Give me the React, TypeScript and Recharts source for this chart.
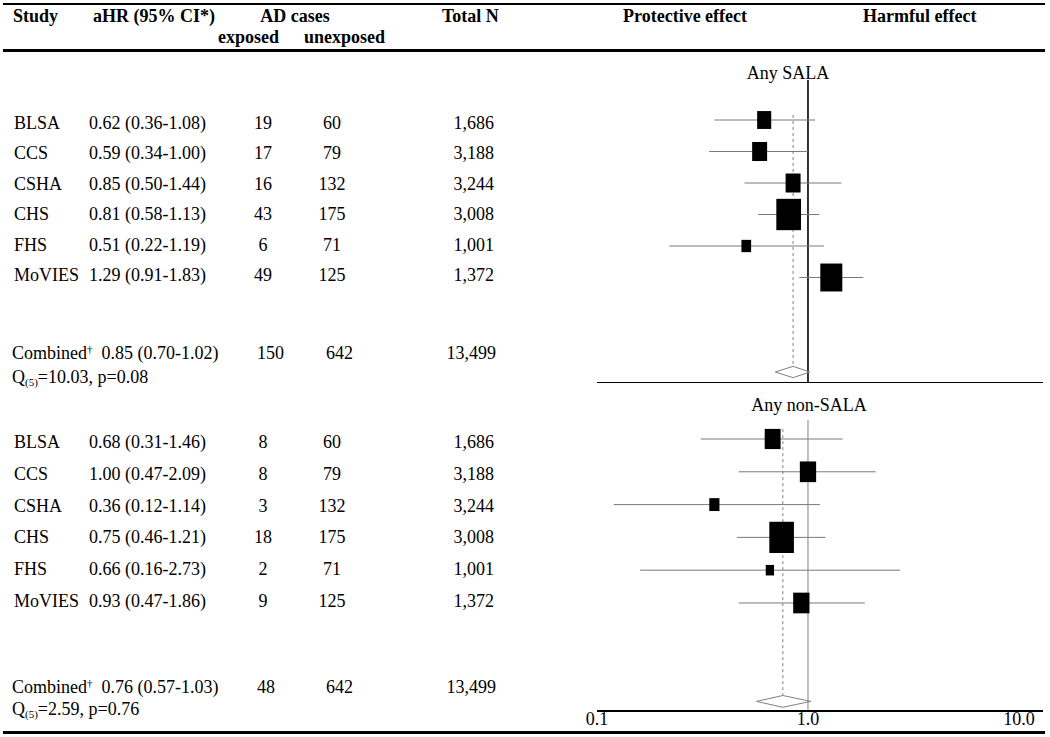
import React from 'react';
import { ComposedChart, XAxis, YAxis, Scatter, ErrorBar, Line, ReferenceLine } from 'recharts';

// ---------- data ----------
const studies = ['BLSA', 'CCS', 'CSHA', 'CHS', 'FHS', 'MoVIES'];
const unexposedCases = [60, 79, 132, 175, 71, 125];
const totalN = ['1,686', '3,188', '3,244', '3,008', '1,001', '1,372'];

const salaHR = [0.62, 0.59, 0.85, 0.81, 0.51, 1.29];
const salaLo = [0.36, 0.34, 0.5, 0.58, 0.22, 0.91];
const salaHi = [1.08, 1.0, 1.44, 1.13, 1.19, 1.83];
const salaExposed = [19, 17, 16, 43, 6, 49];
const salaWeight = [10.8, 12.2, 12.2, 33.2, 5.1, 26.4];
const salaCombined = [0.85, 0.7, 1.02]; // estimate, lower, upper
const salaCombinedCases = [150, 642];
const salaCombinedN = '13,499';
const salaQ = ['10.03', '0.08'];

const nonHR = [0.68, 1.0, 0.36, 0.75, 0.66, 0.93];
const nonLo = [0.31, 0.47, 0.12, 0.46, 0.16, 0.47];
const nonHi = [1.46, 2.09, 1.14, 1.21, 2.73, 1.86];
const nonExposed = [8, 8, 3, 18, 2, 9];
const nonWeight = [16.2, 17.0, 6.6, 38.8, 4.4, 17.0];
const nonCombined = [0.76, 0.57, 1.03];
const nonCombinedCases = [48, 642];
const nonCombinedN = '13,499';
const nonQ = ['2.59', '0.76'];

const xTicks = [0.1, 1, 10];

// ---------- layout constants ----------
const SERIF = "'Liberation Serif', 'Times New Roman', Times, serif";
const COMBINED_ROW = 8;
const DIAMOND_HALF = 0.18;
const BOX_RATIO = 1.27;

type TProps = { x: number; y: number; children: React.ReactNode; bold?: boolean; anchor?: 'left' | 'center' | 'right'; size?: number };
const T = ({ x, y, children, bold, anchor = 'left', size = 18 }: TProps) => (
  <div
    style={{
      position: 'absolute',
      left: x,
      top: y - 10,
      fontFamily: SERIF,
      fontSize: size,
      lineHeight: '20px',
      fontWeight: bold ? 'bold' : 'normal',
      whiteSpace: 'nowrap',
      color: '#000',
      transform: anchor === 'center' ? 'translateX(-50%)' : anchor === 'right' ? 'translateX(-100%)' : undefined,
    }}
  >
    {children}
  </div>
);

const Rule = ({ y, h }: { y: number; h: number }) => (
  <div style={{ position: 'absolute', left: 3, top: y, width: 1042, height: h, background: '#000' }} />
);

const fmtHR = (h: number, l: number, u: number) => `${h.toFixed(2)} (${l.toFixed(2)}-${u.toFixed(2)})`;

type PanelProps = {
  hr: number[]; lo: number[]; hi: number[]; weight: number[]; comb: number[];
  top: number; height: number; domain: [number, number]; areaK: number;
  refStroke: string; refWidth: number; refTop: number; dashTop: number; showAxis: boolean;
};

function Panel(p: PanelProps) {
  const pts = p.hr.map((h, i) => ({ x: h, y: i, err: [h - p.lo[i], p.hi[i] - h], w: p.weight[i] }));
  const [est, cl, cu] = p.comb;
  const diamond = [
    { x: cl, y: COMBINED_ROW },
    { x: est, y: COMBINED_ROW - DIAMOND_HALF },
    { x: cu, y: COMBINED_ROW },
    { x: est, y: COMBINED_ROW + DIAMOND_HALF },
    { x: cl, y: COMBINED_ROW },
  ];
  const box = (props: any) => {
    const { cx, cy, payload } = props;
    const area = payload.w * p.areaK;
    const bw = Math.sqrt(area / BOX_RATIO);
    const bh = bw * BOX_RATIO;
    return <rect x={cx - bw / 2} y={cy - bh / 2} width={bw} height={bh} fill="#000" />;
  };
  return (
    <div style={{ position: 'absolute', left: 560, top: p.top }}>
      <ComposedChart width={490} height={p.height} margin={{ top: 0, right: 7, bottom: 0, left: 37 }}>
        <XAxis
          type="number"
          dataKey="x"
          scale="log"
          domain={[0.1, 13]}
          allowDataOverflow
          ticks={xTicks}
          tick={p.showAxis ? { fill: '#000', fontSize: 18, fontFamily: SERIF } : false}
          tickFormatter={(v: number) => v.toFixed(1)}
          tickLine={false}
          tickSize={0}
          tickMargin={1}
          height={p.showAxis ? 26 : 0}
          hide={!p.showAxis}
          axisLine={{ stroke: '#000', strokeWidth: 2 }}
        />
        <YAxis type="number" dataKey="y" domain={p.domain} reversed hide allowDataOverflow />
        {!p.showAxis && (
          <ReferenceLine y={p.domain[1]} stroke="#000" strokeWidth={2} ifOverflow="visible" />
        )}
        <ReferenceLine
          segment={[{ x: 1, y: p.refTop }, { x: 1, y: p.domain[1] }]}
          stroke={p.refStroke}
          strokeWidth={p.refWidth}
          ifOverflow="visible"
        />
        <ReferenceLine
          segment={[{ x: est, y: p.dashTop }, { x: est, y: COMBINED_ROW - DIAMOND_HALF }]}
          stroke="#808080"
          strokeWidth={1}
          strokeDasharray="3 3"
          ifOverflow="visible"
        />
        <Scatter data={pts} isAnimationActive={false} shape={() => <g />}>
          <ErrorBar dataKey="err" direction="x" width={0} stroke="#7a7a7a" strokeWidth={1} isAnimationActive={false} />
        </Scatter>
        <Scatter data={pts} isAnimationActive={false} shape={box} />
        <Line
          data={diamond}
          dataKey="y"
          type="linear"
          stroke="#808080"
          strokeWidth={1}
          fill="none"
          dot={false}
          activeDot={false}
          isAnimationActive={false}
        />
      </ComposedChart>
    </div>
  );
}

function TableRows({ yStart, step, hr, lo, hi, exposed }: { yStart: number; step: number; hr: number[]; lo: number[]; hi: number[]; exposed: number[] }) {
  return (
    <>
      {studies.map((s, i) => {
        const y = yStart + step * i;
        return (
          <React.Fragment key={s}>
            <T x={14} y={y}>{s}</T>
            <T x={89} y={y}>{fmtHR(hr[i], lo[i], hi[i])}</T>
            <T x={263} y={y} anchor="center">{exposed[i]}</T>
            <T x={332} y={y} anchor="center">{unexposedCases[i]}</T>
            <T x={494} y={y} anchor="right">{totalN[i]}</T>
          </React.Fragment>
        );
      })}
    </>
  );
}

function CombinedRows({ y, qy, comb, cases, n, q }: { y: number; qy: number; comb: number[]; cases: number[]; n: string; q: string[] }) {
  return (
    <>
      <T x={12} y={y}>
        Combined<span style={{ fontSize: 11, position: 'relative', top: -6 }}>†</span>{'\u00a0\u00a0'}{fmtHR(comb[0], comb[1], comb[2])}
      </T>
      <T x={257} y={y}>{cases[0]}</T>
      <T x={326} y={y}>{cases[1]}</T>
      <T x={496} y={y} anchor="right">{n}</T>
      <T x={12} y={qy}>
        Q<span style={{ fontSize: 11, position: 'relative', top: 3 }}>(5)</span>={q[0]}, p={q[1]}
      </T>
    </>
  );
}

export default function App() {
  return (
    <div style={{ position: 'absolute', left: 0, top: 0, width: 1050, height: 737, background: '#fff', overflow: 'hidden' }}>
      <Panel
        hr={salaHR} lo={salaLo} hi={salaHi} weight={salaWeight} comb={salaCombined}
        top={60} height={323} domain={[-1.905, 8.349]} areaK={23.3}
        refStroke="#000" refWidth={1.6} refTop={-1.27} dashTop={-0.16} showAxis={false}
      />
      <Panel
        hr={nonHR} lo={nonLo} hi={nonHi} weight={nonWeight} comb={nonCombined}
        top={383} height={354} domain={[-1.707, 8.293]} areaK={19.8}
        refStroke="#808080" refWidth={1} refTop={-0.58} dashTop={-0.3} showAxis={true}
      />

      <Rule y={3} h={2} />
      <Rule y={49} h={3} />
      <Rule y={731} h={3} />

      {/* header */}
      <T x={13} y={16} bold>Study</T>
      <T x={93} y={16} bold>aHR (95% CI*)</T>
      <T x={295} y={16} bold anchor="center">AD cases</T>
      <T x={218} y={37} bold>exposed</T>
      <T x={304} y={37} bold>unexposed</T>
      <T x={442} y={16} bold>Total N</T>
      <T x={623} y={16} bold>Protective effect</T>
      <T x={863} y={16} bold>Harmful effect</T>

      {/* panel titles */}
      <T x={788} y={73} anchor="center">Any SALA</T>
      <T x={809} y={405} anchor="center">Any non-SALA</T>

      <TableRows yStart={123} step={30.4} hr={salaHR} lo={salaLo} hi={salaHi} exposed={salaExposed} />
      <CombinedRows y={353} qy={377} comb={salaCombined} cases={salaCombinedCases} n={salaCombinedN} q={salaQ} />

      <TableRows yStart={442} step={31.8} hr={nonHR} lo={nonLo} hi={nonHi} exposed={nonExposed} />
      <CombinedRows y={687} qy={709} comb={nonCombined} cases={nonCombinedCases} n={nonCombinedN} q={nonQ} />
    </div>
  );
}
